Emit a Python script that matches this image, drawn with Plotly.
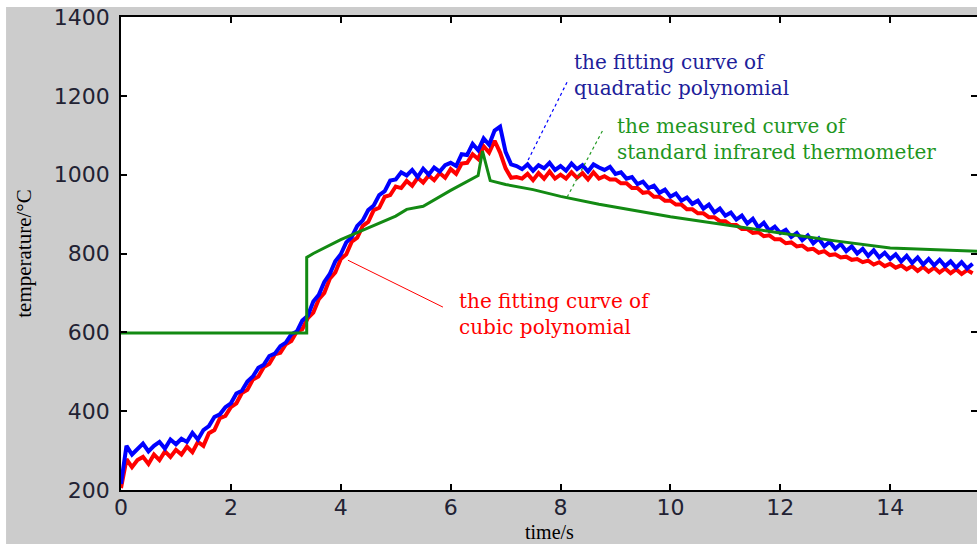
import numpy as np
import plotly.graph_objects as go

# Sampling grid of the fitted curves (s)
time_fit = np.round(np.arange(0, 15.55, 0.1), 1)

# Fitting curve of quadratic polynomial (deg C)
temp_quadratic = [
    215, 312, 290, 305, 318, 298, 312, 322, 305, 328,
    316, 330, 322, 345, 328, 352, 362, 385, 392, 410,
    420, 445, 452, 475, 488, 510, 518, 540, 546, 565,
    574, 595, 602, 630, 642, 678, 695, 728, 748, 780,
    798, 828, 842, 870, 884, 910, 922, 948, 958, 985,
    988, 1006, 998, 1012, 994, 1015, 1000, 1018, 1008, 1024,
    1030, 1022, 1052, 1050, 1078, 1062, 1092, 1076, 1112, 1122,
    1058, 1026, 1022, 1014, 1026, 1010, 1024, 1016, 1030, 1012,
    1022, 1010, 1028, 1014, 1024, 1008, 1026, 1018, 1012, 1020,
    1002, 1006, 990, 994, 976, 982, 966, 972, 954, 962,
    944, 952, 934, 942, 926, 934, 914, 924, 904, 914,
    896, 904, 886, 896, 876, 888, 866, 878, 858, 868,
    852, 860, 842, 852, 834, 846, 826, 838, 818, 830,
    812, 824, 806, 818, 800, 812, 794, 808, 790, 802,
    786, 798, 780, 794, 776, 790, 772, 786, 770, 784,
    768, 780, 764, 778, 762, 774,
]

# Fitting curve of cubic polynomial (deg C)
temp_cubic = [
    205, 278, 258, 276, 284, 266, 290, 276, 298, 284,
    302, 290, 310, 296, 322, 312, 344, 352, 382, 388,
    410, 420, 446, 454, 480, 488, 512, 520, 544, 548,
    570, 578, 602, 608, 636, 650, 684, 700, 736, 752,
    786, 798, 830, 840, 870, 880, 910, 916, 944, 948,
    970, 966, 984, 972, 992, 980, 998, 986, 1004, 992,
    1014, 1002, 1028, 1030, 1052, 1040, 1072, 1056, 1086, 1056,
    1016, 992, 994, 990, 1002, 986, 1004, 990, 1008, 990,
    1000, 990, 1006, 992, 1004, 988, 1006, 990, 996, 988,
    988, 978, 978, 966, 966, 954, 956, 944, 944, 934,
    934, 924, 924, 912, 912, 902, 902, 892, 892, 882,
    882, 872, 872, 862, 862, 852, 854, 844, 846, 836,
    836, 826, 828, 818, 820, 810, 812, 802, 806, 796,
    798, 790, 792, 784, 786, 778, 782, 772, 778, 768,
    774, 764, 770, 760, 768, 756, 766, 754, 764, 752,
    762, 750, 760, 748, 758, 750,
]

# Standard infrared thermometer reading
time_ir = [0, 3.38, 3.38, 3.5, 4.0, 4.5, 5.0, 5.2, 5.5, 6.0, 6.5, 6.58,
           6.65, 6.72, 7.0, 7.5, 8.0, 8.7, 10.0, 11.0, 12.0, 13.0, 14.0, 15.58]
temp_ir = [598, 598, 790, 800, 835, 865, 895, 912, 920, 960, 998, 1060,
           1020, 985, 975, 962, 945, 925, 893, 872, 852, 832, 814, 806]

x_ticks = [0, 2, 4, 6, 8, 10, 12, 14]
y_ticks = [200, 400, 600, 800, 1000, 1200, 1400]

RED = "#ff0000"
BLUE = "#0000ff"
GREEN = "#138a13"
FRAME_GREY = "#cccccc"

fig = go.Figure()
fig.add_trace(go.Scatter(x=time_fit, y=temp_cubic, mode="lines",
                         line=dict(color=RED, width=4), showlegend=False))
fig.add_trace(go.Scatter(x=time_fit, y=temp_quadratic, mode="lines",
                         line=dict(color=BLUE, width=4), showlegend=False))
fig.add_trace(go.Scatter(x=time_ir, y=temp_ir, mode="lines",
                         line=dict(color=GREEN, width=3), showlegend=False))

# Leader lines from the labels to the curves
fig.add_shape(type="line", x0=7.41, y0=1037, x1=8.12, y1=1235,
              line=dict(color=BLUE, width=1.2, dash="dot"))
fig.add_shape(type="line", x0=8.12, y0=943, x1=8.77, y1=1113,
              line=dict(color="#229922", width=1.2, dash="dot"))
fig.add_shape(type="line", x0=4.13, y0=783, x1=5.86, y1=664,
              line=dict(color=RED, width=1))

# Thin white border around the grey frame
fig.add_shape(type="rect", xref="paper", yref="paper",
              x0=-0.2, x1=1.05, y0=1.0211, y1=1.1,
              fillcolor="white", line=dict(width=0), layer="above")
fig.add_shape(type="rect", xref="paper", yref="paper",
              x0=-0.2, x1=-0.1343, y0=-0.2, y1=1.1,
              fillcolor="white", line=dict(width=0), layer="above")

label_font = "DejaVu Serif"
fig.add_annotation(x=8.21, y=1253, xanchor="left", yanchor="middle",
                   text="the fitting curve of<br>quadratic polynomial",
                   showarrow=False, align="left",
                   font=dict(family=label_font, size=20, color="#20209a"))
fig.add_annotation(x=8.99, y=1090, xanchor="left", yanchor="middle",
                   text="the measured curve of<br>standard infrared thermometer",
                   showarrow=False, align="left",
                   font=dict(family=label_font, size=20, color="#1e961e"))
fig.add_annotation(x=6.12, y=646, xanchor="left", yanchor="middle",
                   text="the fitting curve of<br>cubic polynomial",
                   showarrow=False, align="left",
                   font=dict(family=label_font, size=20, color=RED))

# x-axis title placed just under the tick labels
fig.add_annotation(xref="paper", yref="paper", x=0.5, y=-0.0888,
                   xanchor="center", yanchor="middle", showarrow=False,
                   text="time/s",
                   font=dict(family="Liberation Serif", size=20, color="black"))

axis_common = dict(showgrid=False, zeroline=False, showline=True,
                   linecolor="black", linewidth=1.5, mirror="ticks",
                   ticks="inside", ticklen=6, tickcolor="black", tickwidth=1.5,
                   automargin=False,
                   tickfont=dict(family="DejaVu Sans", size=22, color="#222233"))

fig.update_xaxes(range=[0, 15.58], tickvals=x_ticks, ticklabelstandoff=-3,
                 **axis_common)
fig.update_yaxes(range=[200, 1400], tickvals=y_ticks, ticklabelstandoff=5,
                 title=dict(text="temperature/°C", standoff=16,
                            font=dict(family="Liberation Serif", size=21, color="black")),
                 **axis_common)

fig.update_layout(width=977, height=544,
                  margin=dict(l=121, r=0, t=17, b=54, autoexpand=False),
                  paper_bgcolor=FRAME_GREY, plot_bgcolor="white")

fig.write_html("out.html")
